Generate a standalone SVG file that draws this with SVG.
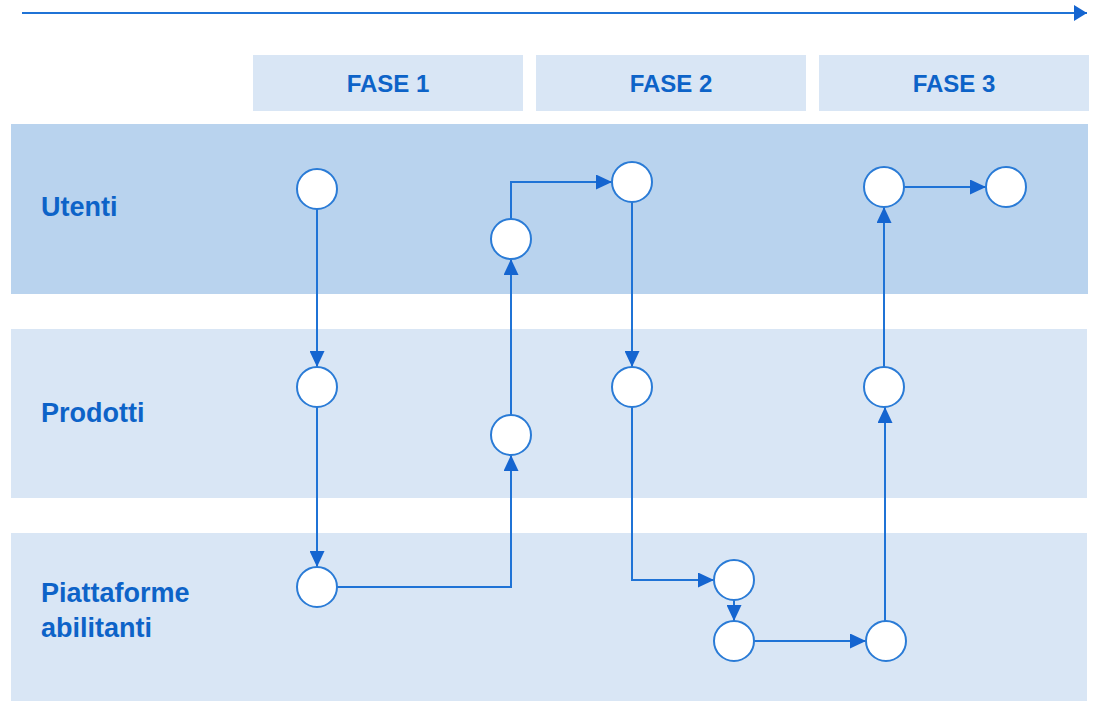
<svg xmlns="http://www.w3.org/2000/svg" width="1099" height="701" viewBox="0 0 1099 701">
<style>
.lane1{fill:#b9d3ee}
.lane2{fill:#d9e6f5}
.phase{fill:#d9e6f5}
.ph{font-family:"Liberation Sans",Arial,sans-serif;font-weight:bold;font-size:24px;fill:#0d63c8;text-anchor:middle}
.lbl{font-family:"Liberation Sans",Arial,sans-serif;font-weight:bold;font-size:27px;fill:#0d63c8}
.node{fill:#ffffff;stroke:#2a7bd6;stroke-width:2}
.conn{fill:none;stroke:#1f73d6;stroke-width:2;marker-end:url(#ah)}
</style>
<defs>
<marker id="ah" markerUnits="userSpaceOnUse" markerWidth="17" markerHeight="15" refX="16" refY="7.5" orient="auto">
<path d="M0,0 L16,7.5 L0,15 Z" fill="#1565d0"/>
</marker>
<marker id="ah2" markerUnits="userSpaceOnUse" markerWidth="14" markerHeight="16" refX="13" refY="8" orient="auto">
<path d="M0,0 L13,8 L0,16 Z" fill="#1565d0"/>
</marker>
</defs>
<g id="timeline">
<line x1="22" y1="13" x2="1087" y2="13" stroke="#1f73d6" stroke-width="2" marker-end="url(#ah2)"/>
</g>
<g id="phases">
<g id="fase1"><rect class="phase" x="253" y="55" width="270" height="56"/><text class="ph" x="388" y="92">FASE 1</text></g>
<g id="fase2"><rect class="phase" x="536" y="55" width="270" height="56"/><text class="ph" x="671" y="92">FASE 2</text></g>
<g id="fase3"><rect class="phase" x="819" y="55" width="270" height="56"/><text class="ph" x="954" y="92">FASE 3</text></g>
</g>
<g id="lanes">
<g id="lane-utenti"><rect class="lane1" x="11" y="124" width="1077" height="170"/><text class="lbl" x="41" y="216">Utenti</text></g>
<g id="lane-prodotti"><rect class="lane2" x="11" y="329" width="1076" height="169"/><text class="lbl" x="41" y="422">Prodotti</text></g>
<g id="lane-piattaforme"><rect class="lane2" x="11" y="533" width="1076" height="168"/><text class="lbl" x="41" y="602">Piattaforme</text><text class="lbl" x="41" y="637">abilitanti</text></g>
</g>
<g id="connectors">
<path class="conn" d="M317,209 L317,367"/>
<path class="conn" d="M317,407 L317,567"/>
<path class="conn" d="M337,587 L511,587 L511,455"/>
<path class="conn" d="M511,415 L511,259"/>
<path class="conn" d="M511,219 L511,182 L612,182"/>
<path class="conn" d="M632,202 L632,367"/>
<path class="conn" d="M632,407 L632,580 L714,580"/>
<path class="conn" d="M734,600 L734,621"/>
<path class="conn" d="M754,641 L866,641"/>
<path class="conn" d="M885,621 L885,407"/>
<path class="conn" d="M884,367 L884,207"/>
<path class="conn" d="M904,187 L986,187"/>
</g>
<g id="nodes">
<circle id="n-u1" class="node" cx="317" cy="189" r="20"/>
<circle id="n-p1" class="node" cx="317" cy="387" r="20"/>
<circle id="n-a1" class="node" cx="317" cy="587" r="20"/>
<circle id="n-p2" class="node" cx="511" cy="435" r="20"/>
<circle id="n-u2" class="node" cx="511" cy="239" r="20"/>
<circle id="n-u3" class="node" cx="632" cy="182" r="20"/>
<circle id="n-p3" class="node" cx="632" cy="387" r="20"/>
<circle id="n-a2" class="node" cx="734" cy="580" r="20"/>
<circle id="n-a3" class="node" cx="734" cy="641" r="20"/>
<circle id="n-a4" class="node" cx="886" cy="641" r="20"/>
<circle id="n-p4" class="node" cx="884" cy="387" r="20"/>
<circle id="n-u4" class="node" cx="884" cy="187" r="20"/>
<circle id="n-u5" class="node" cx="1006" cy="187" r="20"/>
</g>
</svg>
